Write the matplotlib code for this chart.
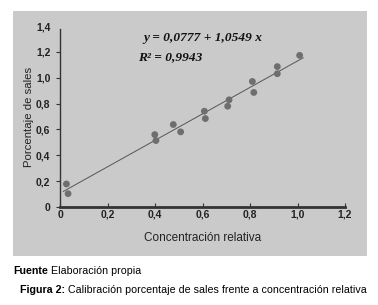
import numpy as np
import matplotlib
matplotlib.use("Agg")
import matplotlib.pyplot as plt
from matplotlib.patches import Rectangle

# data
conc = [0.027, 0.034, 0.399, 0.404, 0.477, 0.508, 0.608, 0.612,
        0.706, 0.712, 0.810, 0.816, 0.915, 0.915, 1.009]
sales = [0.178, 0.103, 0.560, 0.514, 0.638, 0.581, 0.741, 0.684,
         0.780, 0.829, 0.971, 0.886, 1.086, 1.031, 1.173]
fit_range = [0.014, 1.024]

x_ticks = [0, 0.2, 0.4, 0.6, 0.8, 1.0, 1.2]
x_tick_labels = ["0", "0,2", "0,4", "0,6", "0,8", "1,0", "1,2"]
y_ticks = [0, 0.2, 0.4, 0.6, 0.8, 1.0, 1.2, 1.4]
y_tick_labels = ["0", "0,2", "0,4", "0,6", "0,8", "1,0", "1,2", "1,4"]

equation = "y = 0,0777 + 1,0549 x"
r2_text = "R² = 0,9943"

W, H = 378, 305
fig = plt.figure(figsize=(W / 100, H / 100), dpi=100)
fig.patch.set_facecolor("white")

# gray panel behind the chart
fig.patches.append(Rectangle((13 / W, 1 - 256 / H), (367 - 13) / W, (256 - 11) / H,
                             transform=fig.transFigure, facecolor="#cbcacb",
                             edgecolor="none", zorder=-5))

ax = fig.add_axes([60 / W, 1 - 207 / H, (345 - 60) / W, (207 - 26) / H])
ax.set_facecolor("none")
ax.set_xlim(0, 1.2)
ax.set_ylim(0, 1.4)

ax.scatter(conc, sales, s=24, color="#6e6e6e", edgecolors="none", zorder=3)

coef = np.polyfit(conc, sales, 1)
xs = np.array(fit_range)
ax.plot(xs, np.polyval(coef, xs), color="#555555", lw=0.7, zorder=2)

for side in ["top", "right"]:
    ax.spines[side].set_visible(False)
ax.spines["bottom"].set_linewidth(2)
ax.spines["bottom"].set_color("#333333")
ax.spines["left"].set_linewidth(1)
ax.spines["left"].set_color("#333333")
ax.spines["left"].set_bounds(0, 1.38)

ax.set_xticks(x_ticks)
ax.set_xticklabels(x_tick_labels)
ax.set_yticks(y_ticks)
ax.set_yticklabels(y_tick_labels)
ax.tick_params(axis="x", direction="in", length=3, width=0.8, pad=2, color="#333333")
ax.tick_params(axis="y", direction="out", length=3, width=0.8, pad=4, color="#333333")
for lab in ax.get_xticklabels() + ax.get_yticklabels():
    lab.set_fontfamily("Liberation Sans")
    lab.set_fontweight("bold")
    lab.set_fontsize(7.5)
    lab.set_color("#222222")
ax.get_yticklines()[-2].set_visible(False)

ax.set_xlabel("Concentración relativa", fontfamily="Liberation Sans", fontsize=8.5,
              color="#222222", labelpad=9)
ax.set_ylabel("Porcentaje de sales", fontfamily="Liberation Sans", fontsize=8.2,
              color="#222222", labelpad=1)

fig.text(143 / W, 1 - 38 / H, equation, fontfamily="Liberation Serif", fontsize=9.6,
         fontweight="bold", fontstyle="italic", va="center", ha="left", color="#111111")
fig.text(138 / W, 1 - 57 / H, r2_text, fontfamily="Liberation Serif", fontsize=9.6,
         fontweight="bold", fontstyle="italic", va="center", ha="left", color="#111111")

# captions below the panel
t1 = fig.text(13 / W, 1 - 271 / H, "Fuente", fontfamily="Liberation Sans",
              fontsize=7.7, fontweight="bold", va="center", ha="left")
plt.annotate(" Elaboración propia", xy=(1, 0), xycoords=t1, fontfamily="Liberation Sans",
             fontsize=7.7, va="bottom", ha="left")
t2 = fig.text(20 / W, 1 - 290 / H, "Figura 2:", fontfamily="Liberation Sans",
              fontsize=7.7, fontweight="bold", va="center", ha="left")
plt.annotate(" Calibración porcentaje de sales frente a concentración relativa",
             xy=(1, 0), xycoords=t2, fontfamily="Liberation Sans", fontsize=7.7,
             va="bottom", ha="left")

fig.savefig("out.png", dpi=100)
